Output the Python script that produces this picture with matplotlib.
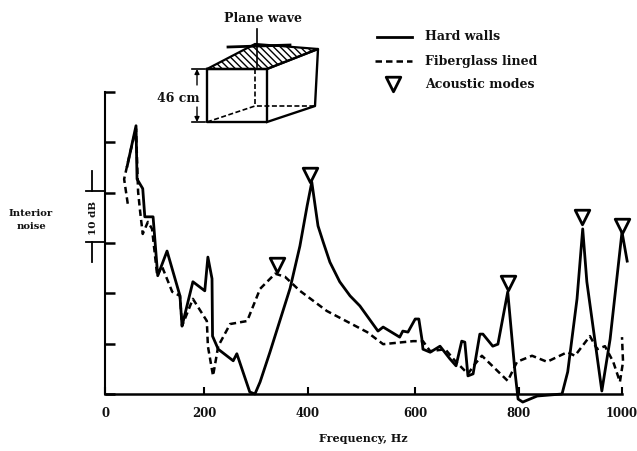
import matplotlib
matplotlib.use('Agg')
import matplotlib.pyplot as plt

# Values (Hz, dB above baseline)
hard_freq = [43, 60, 62, 73, 77, 93, 102, 120, 145, 149, 170, 193, 199, 207, 208, 219, 248, 255,
             280, 290, 300, 319, 358, 377, 391, 400, 407, 412, 422, 435, 454, 474, 493, 528, 538, 570, 576,
             586, 600, 607, 613, 615, 629, 648, 667, 679, 690, 696, 702, 712, 725, 731, 750, 760,
             779, 793, 799, 808, 836, 884, 895, 913, 924, 932, 961, 977, 1000, 1010]
hard_db = [45.3, 53.3, 42.7, 40.8, 35.2, 35.2, 23.5, 28.4, 19.5, 13.5, 22.3, 20.5, 27.2, 22.9, 11.5,
           8.9, 6.6, 8.0, 0.4, 0.0, 2.4, 8.3, 21.0, 29.4, 37.4, 42.1, 37.0, 33.4, 30.2, 26.2, 22.3, 19.5, 17.5,
           12.5, 13.3, 11.3, 12.5, 12.3, 14.9, 14.9, 10.9, 8.9, 8.3, 9.5, 7.0, 5.6, 10.5, 10.3, 3.6,
           4.0, 11.9, 11.9, 9.5, 9.9, 20.3, 4.4, -1.0, -1.6, -0.4, 0.0, 4.4, 18.9, 32.8, 22.3, 0.6,
           10.9, 32.2, 26.4]

fiber_freq = [44, 37, 48, 60, 64, 68, 73, 83, 91, 101, 110, 130, 145, 149, 170, 197, 199, 209, 219,
              242, 275, 300, 329, 348, 377, 429, 507, 538, 596, 615, 629, 658, 677, 702, 716, 729,
              779, 797, 826, 855, 894, 909, 938, 952, 967, 983, 996, 1002, 1000]
fiber_db = [37.8, 42.7, 47.7, 52.7, 40.2, 36.2, 31.8, 34.2, 32.8, 23.5, 25.4, 20.3, 19.5, 13.5, 18.9,
            14.5, 9.5, 3.6, 9.5, 13.9, 14.5, 20.9, 23.9, 23.3, 20.5, 16.5, 12.3, 9.9, 10.5, 10.5,
            8.5, 8.9, 6.6, 4.0, 6.0, 7.6, 2.6, 6.4, 7.6, 6.4, 8.3, 7.6, 11.5, 8.9, 9.5, 6.4, 2.4,
            6.4, 11.3]

mode_freq = [333, 397, 779, 923, 1000]
mode_db = [25.7, 43.6, 22.0, 35.2, 33.4]

# printed axis runs slightly uneven in the scan
x_tick_pos = [0, 192, 392, 600, 800, 1000]
x_tick_labels = ['0', '200', '400', '600', '800', '1000']
y_ticks = [0, 10, 20, 30, 40, 50, 60]

# Box sketch, picture pixels
box_front_x = [207, 207, 267, 267, 207]
box_front_y = [70, 123, 123, 70, 70]
box_side_x = [267, 315, 318, 267]
box_side_y = [123, 107, 50, 70]
box_top_x = [207, 255, 318, 267]
box_top_y = [70, 45, 50, 70]

serif = {'family': 'DejaVu Serif', 'weight': 'bold', 'color': '#111111'}

W, H = 637, 452
fig = plt.figure(figsize=(W / 100, H / 100), dpi=100)
ax = fig.add_axes([105 / W, (H - 395) / H, 517 / W, 302 / H])

ax.plot(hard_freq, hard_db, color='black', lw=2.0, clip_on=False, solid_joinstyle='round')
ax.plot(fiber_freq, fiber_db, color='black', lw=1.8, ls=(0, (2.6, 1.6)), clip_on=False)
ax.scatter(mode_freq, mode_db, marker='v', s=110, facecolor='white', edgecolor='black',
           linewidth=2.0, clip_on=False, zorder=5)

ax.set_xlim(0, 1000)
ax.set_ylim(0, 60)
ax.spines['top'].set_visible(False)
ax.spines['right'].set_visible(False)
ax.spines['left'].set_linewidth(1.5)
ax.spines['bottom'].set_linewidth(1.8)
ax.patch.set_alpha(0)
ax.set_xticks(x_tick_pos)
ax.set_xticklabels(x_tick_labels, fontsize=8.4, **serif)
ax.set_yticks(y_ticks)
ax.set_yticklabels([])
ax.tick_params(axis='x', direction='in', length=5, width=1.5, pad=9)
ax.tick_params(axis='y', direction='in', length=7, width=1.8)
ax.set_xlabel('Frequency, Hz', fontsize=8, labelpad=9, **serif)

# Overlay in picture pixels for the sketch, legend and side notes
ov = fig.add_axes([0, 0, 1, 1])
ov.set_xlim(0, W)
ov.set_ylim(H, 0)
ov.axis('off')

ov.fill(box_top_x, box_top_y, facecolor='white', edgecolor='black', hatch='\\\\\\\\\\', lw=1.6)
ov.plot(box_front_x, box_front_y, color='black', lw=1.7)
ov.plot(box_side_x, box_side_y, color='black', lw=1.7)
ov.plot([255, 255], [70, 107], color='black', lw=1.2, ls=(0, (3, 1.5)))
ov.plot([207, 255, 315], [123, 107, 107], color='black', lw=1.2, ls=(0, (3, 1.5)))
ov.plot([257, 257], [30, 68], color='black', lw=1.2)
ov.plot([228, 290], [48, 46], color='black', lw=2.0)
ov.text(263, 18, 'Plane wave', ha='center', va='center', fontsize=9, **serif)

# 46 cm dimension
ov.text(178, 98, '46 cm', ha='center', va='center', fontsize=9, **serif)
ov.annotate('', xy=(197, 70), xytext=(197, 86), arrowprops=dict(arrowstyle='-|>', color='black', lw=1, mutation_scale=7, shrinkA=0, shrinkB=0))
ov.annotate('', xy=(197, 123), xytext=(197, 108), arrowprops=dict(arrowstyle='-|>', color='black', lw=1, mutation_scale=7, shrinkA=0, shrinkB=0))
ov.plot([192, 205], [70, 70], color='black', lw=1.2)
ov.plot([192, 205], [123, 123], color='black', lw=1.2)

# Legend
ov.plot([377, 412], [38, 38], color='black', lw=2.0)
ov.plot([375, 412], [62, 62], color='black', lw=1.8, ls=(0, (2.6, 1.6)))
ov.scatter([393], [85], marker='v', s=110, facecolor='white', edgecolor='black', linewidth=2.0)
ov.text(425, 37, 'Hard walls', va='center', fontsize=9, **serif)
ov.text(425, 61, 'Fiberglass lined', va='center', fontsize=9, **serif)
ov.text(425, 84, 'Acoustic modes', va='center', fontsize=9, **serif)

# Side notes
ov.text(31, 220, 'Interior\nnoise', ha='center', va='center', fontsize=7.2, linespacing=1.7, **serif)
ov.text(93, 218, '10 dB', rotation=90, ha='center', va='center', fontsize=7.5, **serif)
ov.plot([92, 92], [172, 192], color='black', lw=1.3)
ov.plot([92, 92], [243, 263], color='black', lw=1.3)
ov.plot([86, 105], [192, 192], color='black', lw=1.3)
ov.plot([86, 105], [243, 243], color='black', lw=1.3)

fig.savefig('out.png', dpi=100)
